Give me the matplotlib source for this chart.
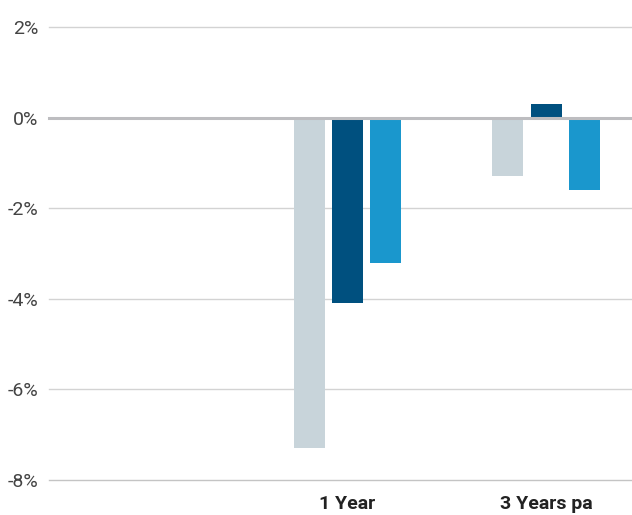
import matplotlib
matplotlib.use("Agg")
import matplotlib.pyplot as plt
import numpy as np

categories = ["", "1 Year", "3 Years pa"]
series_a = [np.nan, -7.3, -1.3]   # light grey
series_b = [np.nan, -4.1, 0.3]    # dark blue
series_c = [np.nan, -3.2, -1.6]   # bright blue
yticks = [-8, -6, -4, -2, 0, 2]

colors = ["#c8d4da", "#00507f", "#1a97cd"]

fig = plt.figure(figsize=(6.32, 5.15), dpi=100)
ax = fig.add_axes([49/632, 35/515, 1 - 49/632, (480-27)/515])

x = np.arange(len(categories))
w = 0.156
off = 0.193
for i, (vals, c) in enumerate(zip([series_a, series_b, series_c], colors)):
    ax.bar(x + (i - 1) * off, vals, width=w, color=c, zorder=3)

ax.set_ylim(-8, 2)
ax.set_xlim(-0.504, 2.433)
ax.set_yticks(yticks)
ax.set_yticklabels([f"{t}%" for t in yticks], fontsize=14, color="#444444",
                   family=["Roboto", "DejaVu Sans"], fontweight="normal")
ax.set_xticks(x)
ax.set_xticklabels(categories, fontsize=14, fontweight="bold", color="#222222",
                   family=["Roboto", "DejaVu Sans"])
ax.tick_params(axis="both", length=0)
ax.tick_params(axis="y", pad=7.5)
ax.tick_params(axis="x", pad=11)
for s in ax.spines.values():
    s.set_visible(False)
for t in yticks:
    if t == 0:
        ax.axhline(t, color="#bdbdc0", lw=2.2, zorder=4, clip_on=False)
    elif t == -8:
        ax.axhline(t, color="#c4c4c4", lw=1.0, zorder=1, clip_on=False)
    else:
        ax.axhline(t, color="#d3d3d3", lw=1.0, zorder=1, clip_on=False)

fig.savefig("out.png", dpi=100)
